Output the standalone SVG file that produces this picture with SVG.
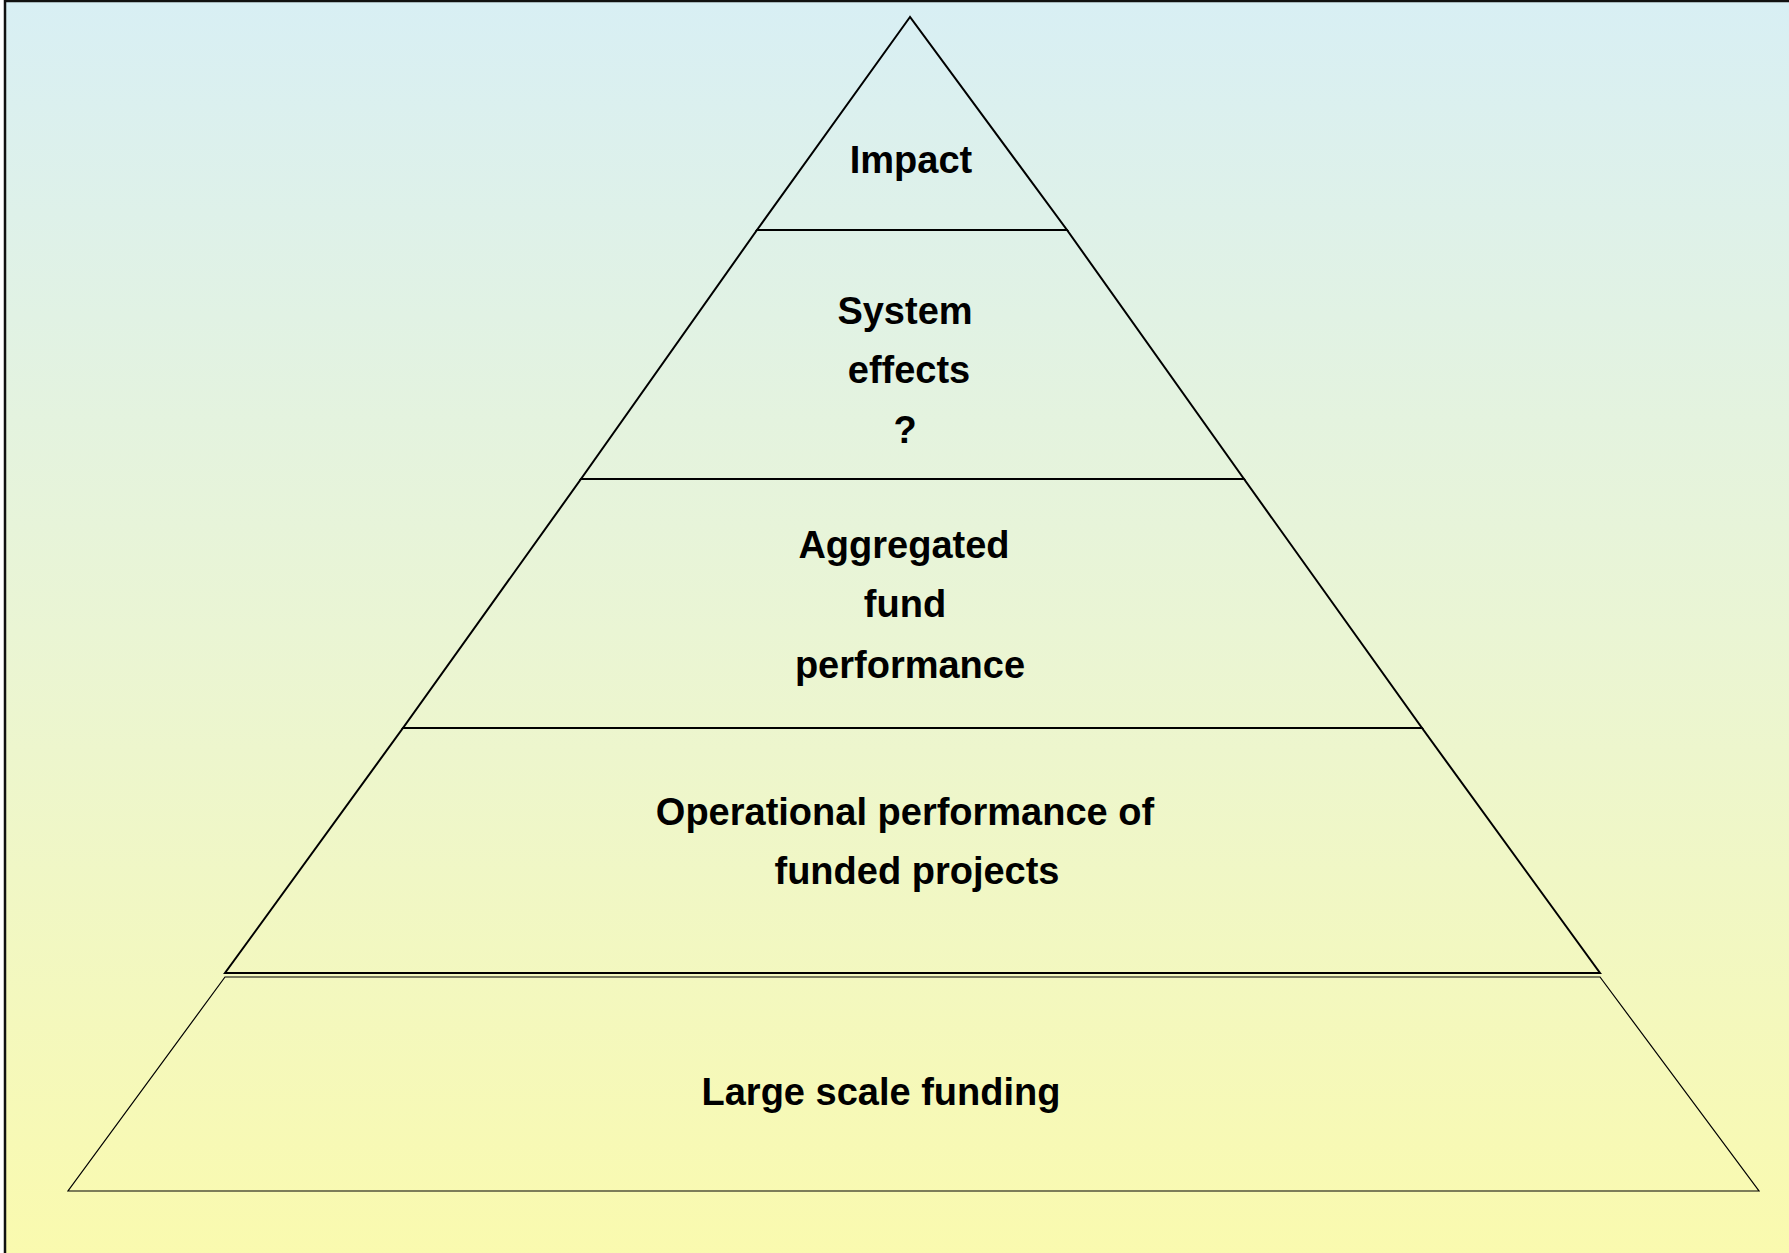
<svg xmlns="http://www.w3.org/2000/svg" width="1789" height="1253" viewBox="0 0 1789 1253">
  <defs>
    <linearGradient id="bg" x1="0" y1="0" x2="0" y2="1">
      <stop offset="0" stop-color="#d8eff4"/>
      <stop offset="0.5" stop-color="#eaf5d4"/>
      <stop offset="1" stop-color="#fafaae"/>
    </linearGradient>
  </defs>
  <style>
    .band { fill: none; stroke: #000; stroke-width: 2; stroke-linejoin: miter; }
    .base { fill: none; stroke: #000; stroke-width: 1.2; }
    .lbl { font-family: "Liberation Sans", Arial, sans-serif; font-weight: bold; font-size: 38px; fill: #000; text-anchor: middle; }
  </style>

  <!-- background panel -->
  <rect x="5" y="1" width="1790" height="1260" fill="url(#bg)" stroke="#111" stroke-width="2.5"/>

  <!-- pyramid tiers, top to bottom -->
  <g id="tier-impact">
    <polygon class="band" points="910,17 757,230 1067,230"/>
    <text class="lbl" x="911" y="173">Impact</text>
  </g>
  <g id="tier-system-effects">
    <polygon class="band" points="757,230 1067,230 1244,479 581,479"/>
    <text class="lbl" x="905" y="324">System</text>
    <text class="lbl" x="909" y="383">effects</text>
    <text class="lbl" x="905" y="443">?</text>
  </g>
  <g id="tier-aggregated">
    <polygon class="band" points="581,479 1244,479 1422,728 403,728"/>
    <text class="lbl" x="904" y="558">Aggregated</text>
    <text class="lbl" x="905" y="617">fund</text>
    <text class="lbl" x="910" y="678">performance</text>
  </g>
  <g id="tier-operational">
    <polygon class="band" points="403,728 1422,728 1600,973 225,973"/>
    <text class="lbl" x="905" y="825">Operational performance of</text>
    <text class="lbl" x="917" y="884">funded projects</text>
  </g>
  <g id="tier-funding">
    <polygon class="base" points="225,977 1600,977 1759,1191 68,1191"/>
    <text class="lbl" x="881" y="1105">Large scale funding</text>
  </g>
  <g id="connectors"></g>
</svg>
